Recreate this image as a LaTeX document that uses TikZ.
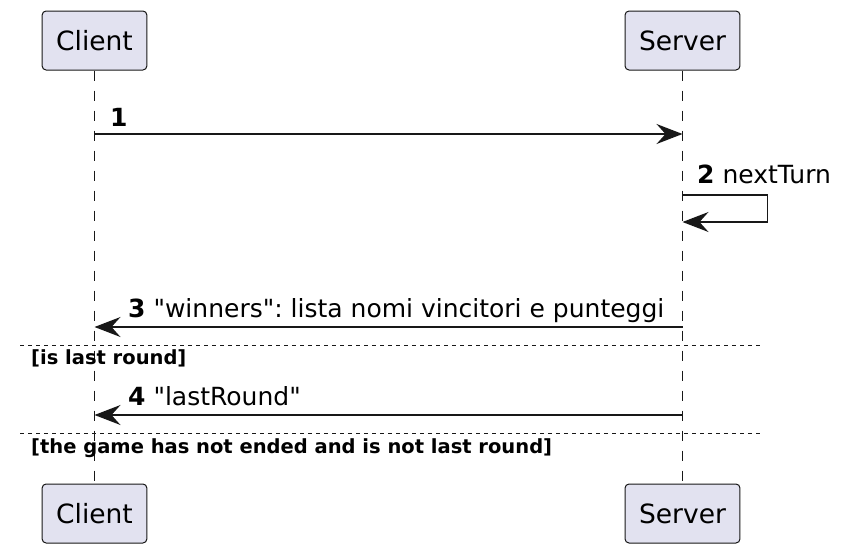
\documentclass[tikz,border=0pt]{standalone}
\usepackage{fontspec}
\setmainfont{DejaVu Sans}[Ligatures=TeXOff]
\usetikzlibrary{arrows.meta,positioning}

\definecolor{boxfill}{HTML}{E2E2F0}
\definecolor{boxline}{HTML}{181818}

\begin{document}
\frenchspacing
\begin{tikzpicture}[x=1pt, y=-1pt,
		participant/.style={draw=boxline, fill=boxfill, rounded corners=4pt, line width=1pt,
			minimum height=59pt, inner xsep=14pt, font=\fontsize{26.5}{30}\selectfont},
		lifeline/.style={draw=boxline, line width=1pt, dash pattern=on 10pt off 10pt},
		msg/.style={draw=boxline, line width=1.4pt, -{Stealth[length=26pt, width=20pt, inset=9pt]}},
		msglabel/.style={anchor=base west, inner sep=0pt, font=\fontsize{25}{28}\selectfont},
		guard/.style={draw=boxline, line width=1pt, dash pattern=on 4pt off 4pt},
		guardlabel/.style={anchor=base west, inner sep=0pt, font=\fontsize{19.5}{24}\selectfont\bfseries}]
	\useasboundingbox (0,0) rectangle (848,554);
	\fill[white] (0,0) rectangle (848,554);

	% participants, top and bottom
	\node[participant] (clientTop) at (94.5,40.5) {Client};
	\node[participant] (serverTop) at (682.5,40.5) {Server};
	\node[participant] (clientBot) at (94.5,513.5) {Client};
	\node[participant] (serverBot) at (682.5,513.5) {Server};

	\draw[lifeline] (clientTop) -- (clientBot);
	\draw[lifeline] (serverTop) -- (serverBot);

	% points on the lifelines
	\coordinate (c1) at (94.5,134);
	\coordinate (s1) at (682.5,134);
	\coordinate (s2) at (682.5,195);
	\coordinate (s2b) at (682.5,222);
	\coordinate (c3) at (94.5,327);
	\coordinate (s3) at (682.5,327);
	\coordinate (c4) at (94.5,415);
	\coordinate (s4) at (682.5,415);

	% 1
	\draw[msg] (c1) -- (s1);
	\node[msglabel] (lab1) at (110,126) {\textbf{1}};

	% 2 self message
	\draw[msg] (s2) -- ++(85,0) |- (s2b);
	\node[msglabel] (lab2) at (697,183) {\textbf{2} nextTurn};

	% 3
	\draw[msg] (s3) -- (c3);
	\node[msglabel] (lab3) at (128,317) {\textbf{3} "winners": lista nomi vincitori e punteggi};

	\coordinate (g1a) at (20,345);
	\coordinate (g1b) at (762,345);
	\draw[guard] (g1a) -- (g1b);
	\node[guardlabel] (guard1) at (31,364) {[is last round]};

	% 4
	\draw[msg] (s4) -- (c4);
	\node[msglabel] (lab4) at (128,405) {\textbf{4} "lastRound"};

	\coordinate (g2a) at (20,433);
	\coordinate (g2b) at (762,433);
	\draw[guard] (g2a) -- (g2b);
	\node[guardlabel] (guard2) at (31,453) {[the game has not ended and is not last round]};
\end{tikzpicture}
\end{document}
